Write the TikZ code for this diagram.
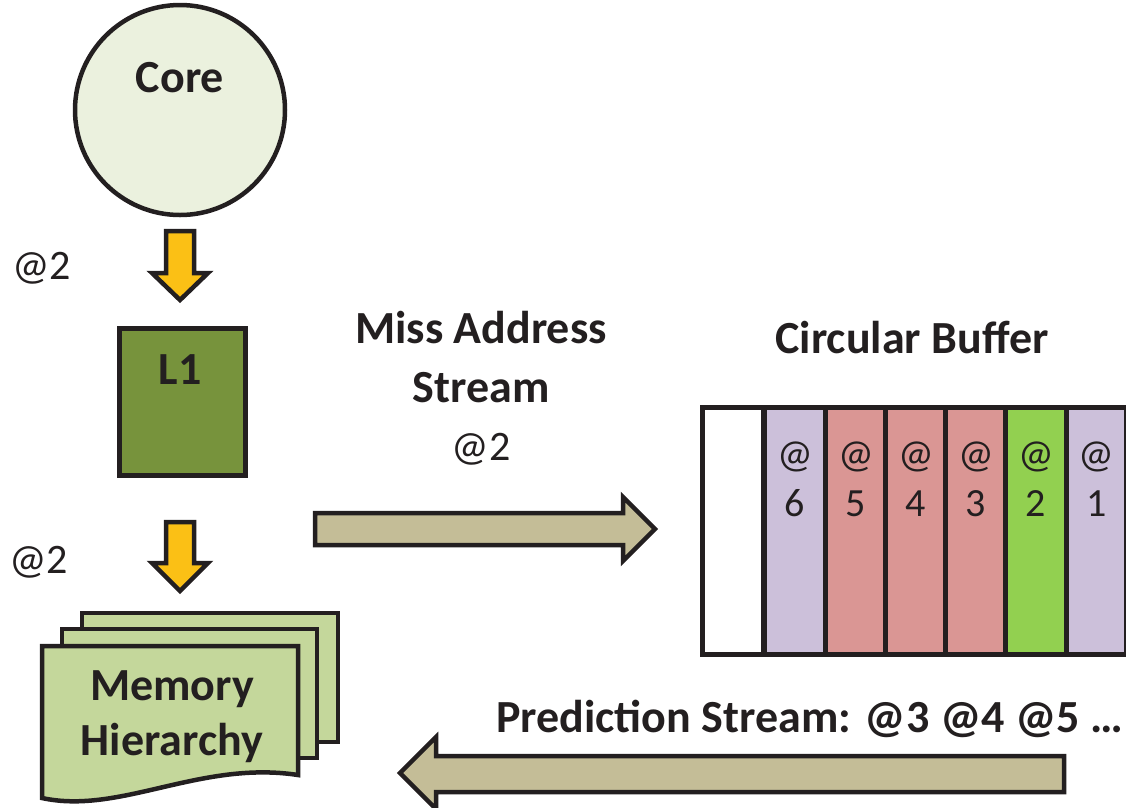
\documentclass[tikz,border=0pt]{standalone}
\usepackage{fontspec}
\setmainfont{Carlito}
\definecolor{dk}{HTML}{231F20}
\definecolor{coref}{HTML}{EBF1DE}
\definecolor{lonef}{HTML}{77933C}
\definecolor{memf}{HTML}{C4D79B}
\definecolor{yel}{HTML}{FBC015}
\definecolor{tanf}{HTML}{C4BD97}
\definecolor{lav}{HTML}{CCC0DA}
\definecolor{rose}{HTML}{DA9694}
\definecolor{grn}{HTML}{92D050}
\begin{document}
\begin{tikzpicture}[x=1pt,y=-1pt,line join=miter,
  outl/.style={draw=dk,line width=4.5pt},
  big/.style={font=\fontsize{46}{55}\selectfont\bfseries,inner sep=0pt,text=dk},
  lab/.style={font=\fontsize{42}{50}\selectfont,inner sep=0pt,text=dk},
  celltxt/.style={font=\fontsize{40}{48}\selectfont,inner sep=0pt,text=dk},
  cellbox/.style={outl,line width=5pt,minimum width=61pt,minimum height=247pt,anchor=north west,inner sep=0pt}]
\useasboundingbox (0,0) rectangle (1126,807);
% Core
\node[outl,circle,fill=coref,minimum size=210pt,inner sep=0pt] (core) at (180,110) {};
\node[big,anchor=base] (coretxt) at (180,92) {Core};
% yellow arrows
\draw[outl,fill=yel] (166,231) -- (194,231) -- (194,273) -- (208,273) -- (180,300) -- (152,273) -- (166,273) -- cycle;
\draw[outl,fill=yel] (166,522) -- (194,522) -- (194,563) -- (208,563) -- (180,591) -- (152,563) -- (166,563) -- cycle;
\node[lab,anchor=base west] (at1) at (12,279) {@2};
\node[lab,anchor=base west] (at2) at (9,573) {@2};
% L1
\node[outl,fill=lonef,minimum width=126pt,minimum height=147pt,anchor=north west,inner sep=0pt] (l1) at (117,326) {};
\node[big,anchor=base] (l1txt) at (180,384) {L1};
% Memory hierarchy
\draw[outl,fill=memf] (82,613) rectangle (338,742);
\draw[outl,fill=memf] (62,629) rectangle (317,758);
\draw[outl,fill=memf] (42,646) -- (298,646) -- (298,775) .. controls (200,760) and (120,815) .. (42,798) -- cycle;
\node[big,anchor=base] (memtxt1) at (172,700) {Memory};
\node[big,anchor=base] (memtxt2) at (172,755) {Hierarchy};
% Miss address stream
\node[big,anchor=base] (misstxt1) at (481,343) {Miss Address};
\node[big,anchor=base] (misstxt2) at (481,402) {Stream};
\node[lab,anchor=base] (missat) at (481,460) {@2};
\draw[outl,fill=tanf] (315,513) -- (623,513) -- (623,497) -- (655,529) -- (623,561) -- (623,545) -- (315,545) -- cycle;
% Circular buffer
\node[big,anchor=base] (cbtxt) at (912,353) {Circular Buffer};
\node[cellbox,fill=white] (c0) at (700,405) {};
\node[cellbox,fill=lav] (c6) at (762,405) {};
\node[cellbox,fill=rose] (c5) at (823,405) {};
\node[cellbox,fill=rose] (c4) at (883,405) {};
\node[cellbox,fill=rose] (c3) at (943,405) {};
\node[cellbox,fill=grn] (c2) at (1003,405) {};
\node[cellbox,fill=lav,minimum width=60pt] (c1) at (1064,405) {};
\foreach \n/\d in {c6/6,c5/5,c4/4,c3/3,c2/2,c1/1}{
  \node[celltxt,anchor=base] at ([yshift=-62pt]\n.north) {@};
  \node[celltxt,anchor=base] at ([yshift=-111pt]\n.north) {\d};
}
% Prediction stream
\node[big,anchor=base west] (predtxt) at (496,732) {Prediction Stream: @3 @4 @5 …};
\draw[outl,fill=tanf] (1064,756) -- (436,756) -- (436,737) -- (400,773) -- (436,809) -- (436,792) -- (1064,792) -- cycle;
\end{tikzpicture}
\end{document}
